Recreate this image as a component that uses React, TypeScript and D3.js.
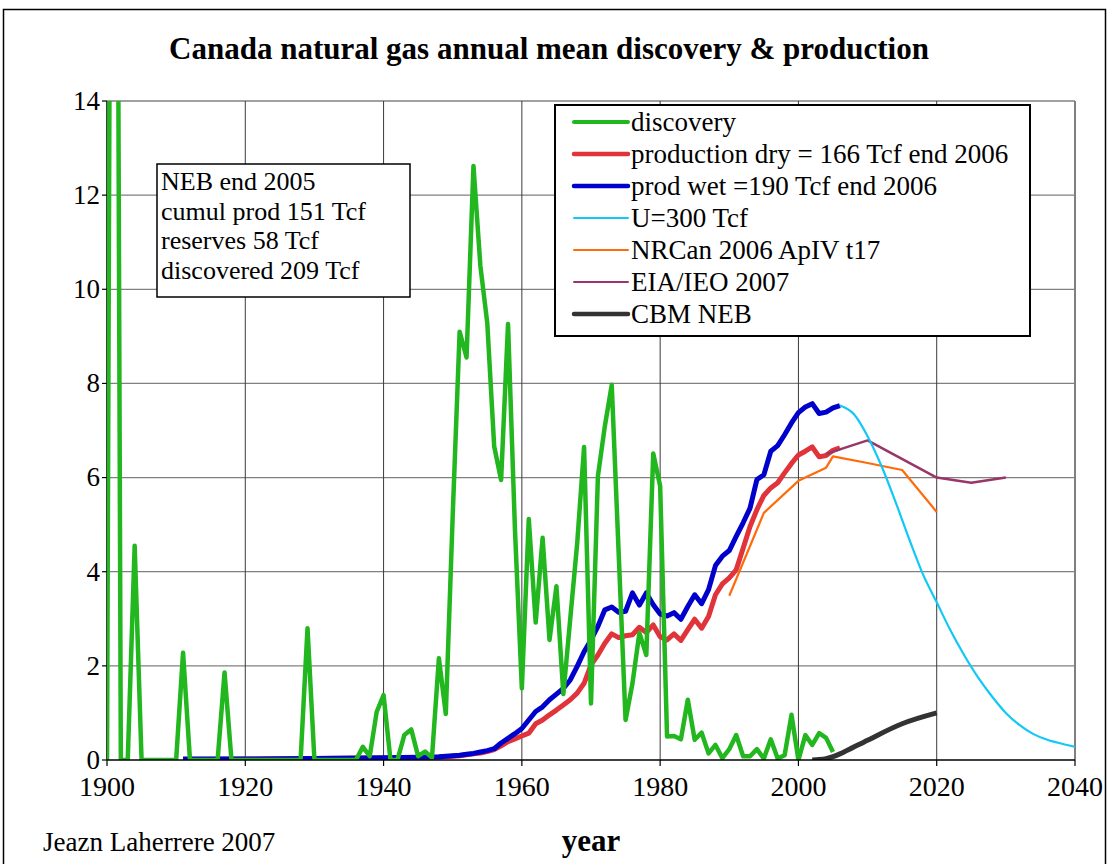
import React from "react";
import * as d3 from "d3";

const discoveryYears = d3.range(1900, 2006);
const discoveryValues = [
  0, 40, 0, 0, 4.55, 0, 0, 0, 0, 0, // 1900-1909
  0, 2.28, 0, 0, 0, 0, 0, 1.86, 0, 0, // 1910-1919
  0, 0, 0, 0, 0, 0, 0, 0, 0, 2.8, // 1920-1929
  0, 0, 0, 0, 0, 0, 0, 0.28, 0.08, 1.02, // 1930-1939
  1.38, 0, 0, 0.53, 0.65, 0.08, 0.18, 0.05, 2.16, 0.98, // 1940-1949
  5.2, 9.1, 8.55, 12.62, 10.5, 9.28, 6.66, 5.95, 9.26, 4.9, // 1950-1959
  1.52, 5.12, 2.92, 4.72, 2.55, 3.69, 1.4, 3.0, 4.6, 6.65, // 1960-1969
  1.2, 6.03, 7.09, 7.97, 4.4, 0.85, 1.63, 2.7, 2.23, 6.51, // 1970-1979
  5.82, 0.5, 0.51, 0.44, 1.28, 0.43, 0.58, 0.14, 0.32, 0.04, // 1980-1989
  0.23, 0.53, 0.08, 0.08, 0.23, 0.03, 0.44, 0.03, 0.1, 0.96, // 1990-1999
  0, 0.53, 0.32, 0.57, 0.47, 0.17, // 2000-2005
];

const dryYears = [1911, 1920, 1930, 1940, 1945, 1948, 1950, 1951, 1952, 1953, 1954, 1955, 1956, 1957, 1958, 1959,
  1960, 1961, 1962, 1963, 1964, 1965, 1966, 1967, 1968, 1969, 1970, 1971, 1972, 1973, 1974, 1975, 1976, 1977, 1978, 1979,
  1980, 1981, 1982, 1983, 1984, 1985, 1986, 1987, 1988, 1989, 1990, 1991, 1992, 1993, 1994, 1995, 1996, 1997, 1998, 1999,
  2000, 2001, 2002, 2003, 2004, 2005, 2006];
const dryValues = [0.01, 0.02, 0.03, 0.04, 0.05, 0.06, 0.08, 0.09, 0.11, 0.13, 0.15, 0.18, 0.22, 0.3, 0.39, 0.45,
  0.51, 0.57, 0.77, 0.85, 0.96, 1.06, 1.17, 1.28, 1.42, 1.63, 2.02, 2.23, 2.48, 2.68, 2.6, 2.64, 2.66, 2.82, 2.71, 2.87,
  2.62, 2.55, 2.68, 2.54, 2.77, 2.99, 2.8, 3.05, 3.51, 3.74, 3.87, 4.04, 4.5, 4.96, 5.32, 5.62, 5.78, 5.89, 6.1, 6.3,
  6.48, 6.56, 6.65, 6.44, 6.47, 6.58, 6.63];

const wetYears = dryYears;
const wetValues = [0.02, 0.02, 0.03, 0.05, 0.06, 0.07, 0.09, 0.1, 0.12, 0.14, 0.17, 0.2, 0.24, 0.36, 0.46, 0.56,
  0.67, 0.85, 1.03, 1.13, 1.28, 1.4, 1.52, 1.7, 1.99, 2.3, 2.55, 2.84, 3.19, 3.25, 3.14, 3.16, 3.55, 3.29, 3.55, 3.3,
  3.1, 3.06, 3.13, 2.99, 3.26, 3.51, 3.32, 3.62, 4.13, 4.33, 4.45, 4.75, 5.04, 5.35, 5.96, 6.06, 6.56, 6.68, 6.91, 7.16,
  7.38, 7.5, 7.57, 7.36, 7.39, 7.48, 7.53];

const uYears = [2006, 2008, 2010, 2012, 2014, 2016, 2018, 2020, 2022, 2024, 2026, 2028, 2030, 2032, 2034, 2036, 2038, 2040];
const uValues = [7.53, 7.35, 6.88, 6.25, 5.5, 4.7, 3.95, 3.35, 2.75, 2.22, 1.75, 1.35, 1.0, 0.74, 0.55, 0.43, 0.35, 0.28];

const nrcanYears = [1990, 1995, 2000, 2004, 2005, 2010, 2015, 2020];
const nrcanValues = [3.49, 5.25, 5.93, 6.21, 6.45, 6.31, 6.16, 5.27];

const eiaYears = [2004, 2006, 2010, 2020, 2025, 2030];
const eiaValues = [6.5, 6.6, 6.79, 6.0, 5.89, 6.0];

const cbmYears = [2002, 2003, 2004, 2005, 2006, 2007, 2010, 2015, 2020];
const cbmValues = [0, 0.01, 0.03, 0.07, 0.13, 0.2, 0.42, 0.77, 1.0];

const xTicks = [1900, 1920, 1940, 1960, 1980, 2000, 2020, 2040];
const yTicks = [0, 2, 4, 6, 8, 10, 12, 14];

const legendLabels = [
  "discovery",
  "production dry = 166 Tcf end 2006",
  "prod wet =190 Tcf end 2006",
  "U=300 Tcf",
  "NRCan 2006 ApIV t17",
  "EIA/IEO 2007",
  "CBM NEB",
];
const noteLines = ["NEB end 2005", "cumul prod 151 Tcf", "reserves 58 Tcf", "discovered 209 Tcf"];

const C = {
  green: "#22B71E",
  red: "#E0333A",
  blue: "#0000CC",
  cyan: "#12C8F6",
  orange: "#FF6A0A",
  purple: "#98366A",
  cbm: "#333333",
};

const FONT = "'Liberation Serif', 'Times New Roman', serif";

export default function App() {
  const left = 107, right = 1075, top = 101, bottom = 760;
  const x = d3.scaleLinear().domain([1900, 2040]).range([left, right]);
  const y = d3.scaleLinear().domain([0, 14]).range([bottom, top]);

  const mk = (xs: number[], vs: number[]) => xs.map((yr, i) => [yr, vs[i]] as [number, number]);
  const line = d3.line<[number, number]>().x((d) => x(d[0])).y((d) => y(d[1]));
  const smooth = d3.line<[number, number]>().x((d) => x(d[0])).y((d) => y(d[1])).curve(d3.curveMonotoneX);

  const series = [
    { data: mk(dryYears, dryValues), color: C.red, w: 5, gen: line },
    { data: mk(wetYears, wetValues), color: C.blue, w: 5, gen: line },
    { data: mk(discoveryYears, discoveryValues), color: C.green, w: 4.5, gen: line },
    { data: mk(nrcanYears, nrcanValues), color: C.orange, w: 2.2, gen: line },
    { data: mk(eiaYears, eiaValues), color: C.purple, w: 2.5, gen: line },
    { data: mk(uYears, uValues), color: C.cyan, w: 2.2, gen: smooth },
    { data: mk(cbmYears, cbmValues), color: C.cbm, w: 5, gen: smooth },
  ];

  const legendColors = [C.green, C.red, C.blue, C.cyan, C.orange, C.purple, C.cbm];
  const legendWidths = [4, 4.5, 4.5, 2, 2, 2, 4.5];

  return (
    <div style={{ position: "absolute", left: 0, top: 0 }}>
      <svg width={1112} height={864} style={{ display: "block", background: "#fff" }} fontFamily={FONT}>
        <defs>
          <clipPath id="plotclip">
            <rect x={left} y={top} width={right - left} height={bottom - top} />
          </clipPath>
        </defs>
        <rect x={3.5} y={9.5} width={1102} height={900} fill="none" stroke="#000" strokeWidth={1.5} />

        <text x={549} y={59} textAnchor="middle" fontSize={31} fontWeight="bold">
          Canada natural gas annual mean discovery &amp; production
        </text>

        {/* grid */}
        {yTicks.filter((t) => t > 0).map((t) => (
          <line key={"gy" + t} x1={left} x2={right} y1={y(t)} y2={y(t)} stroke="#808080" strokeWidth={1.3} />
        ))}
        {xTicks.filter((t) => t > 1900 && t < 2040).map((t) => (
          <line key={"gx" + t} x1={x(t)} x2={x(t)} y1={top} y2={bottom} stroke="#3a3a3a" strokeWidth={1} />
        ))}
        <line x1={right} x2={right} y1={top} y2={bottom} stroke="#808080" strokeWidth={2} />

        {/* axes */}
        <line x1={left} x2={left} y1={top} y2={bottom} stroke="#000" strokeWidth={1.5} />
        {yTicks.map((t) => (
          <g key={"yt" + t}>
            <line x1={left - 5} x2={left} y1={y(t)} y2={y(t)} stroke="#000" strokeWidth={1.2} />
            <text x={left - 7} y={y(t)} dy="0.33em" textAnchor="end" fontSize={27}>
              {t}
            </text>
          </g>
        ))}
        {xTicks.map((t) => (
          <g key={"xt" + t}>
            <line x1={x(t)} x2={x(t)} y1={bottom} y2={bottom + 6} stroke="#000" strokeWidth={1.2} />
            <text x={x(t)} y={bottom + 36} textAnchor="middle" fontSize={28}>
              {t}
            </text>
          </g>
        ))}

        {/* series */}
        <g clipPath="url(#plotclip)">
          {series.map((s, i) => (
            <path key={i} d={s.gen(s.data) || ""} fill="none" stroke={s.color} strokeWidth={s.w}
              strokeLinejoin="round" strokeLinecap="butt" />
          ))}
        </g>
        <line x1={left} x2={right} y1={bottom} y2={bottom} stroke="#000" strokeWidth={1.5} />

        {/* note box */}
        <rect x={157} y={164} width={253} height={133} fill="#fff" stroke="#000" strokeWidth={1.5} />
        {noteLines.map((t, i) => (
          <text key={t} x={161} y={190 + i * 29.5} fontSize={26}>
            {t}
          </text>
        ))}

        {/* legend */}
        <rect x={555} y={105} width={475} height={231} fill="#fff" stroke="#000" strokeWidth={2} />
        {legendLabels.map((t, i) => (
          <g key={t}>
            <line x1={574} x2={628} y1={122 + i * 32} y2={122 + i * 32} stroke={legendColors[i]}
              strokeWidth={legendWidths[i]} strokeLinecap="round" />
            <text x={631} y={122 + i * 32} dy="0.33em" fontSize={27}>
              {t}
            </text>
          </g>
        ))}

        <text x={591} y={851} textAnchor="middle" fontSize={31} fontWeight="bold">
          year
        </text>
        <text x={43} y={851} fontSize={27}>
          Jeazn Laherrere 2007
        </text>
      </svg>
    </div>
  );
}
